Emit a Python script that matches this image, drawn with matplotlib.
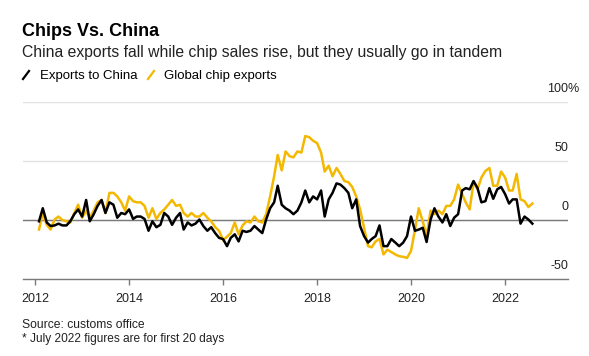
import numpy as np
import pandas as pd
import matplotlib
matplotlib.use('Agg')
import matplotlib.pyplot as plt
import matplotlib.dates as mdates
from matplotlib.lines import Line2D

plt.rcParams['font.family'] = ['Liberation Sans', 'DejaVu Sans']

# Monthly year-on-year change, %, Jan 2012 - Jul 2022
months = pd.date_range('2012-01-31', '2022-07-31', freq='ME')

exports_china = [
    -1, 10, -2, -5, -4.5, -3, -4.5, -4.5, -1, 5, 9, 3,
    17, -1, 5, 12, 17, 6, 15, 13, 2, 6, 5, 9,
    1, 3, 3, 1, -9, -1, -6, -4, 6, 3, -4, 2,
    6, -8, -2, -4.5, -3, 0.5, -5, -9, -6, -11, -15, -16,
    -22, -15, -12, -18, -9, -10, -9, -5, -8, -11, 0.5, 10,
    15, 29, 13, 10, 8, 5, 8, 15, 25, 15, 20, 17.5,
    25, 3, 17.5, 23, 31, 30, 27, 23, 10, 17.5, -5, -13.5,
    -19, -16, -13.5, -4.5, -22, -22, -16, -19, -22, -19, -13.5, 3,
    -9, -8, -6.5, -18.5, 0.5, 10, 3, -2, 5, -5, 2, 5,
    25, 27, 26, 33, 27, 15, 16, 27, 18, 26, 28, 22,
    14, 17.5, 17.5, -3, 3, 0.5, -3,
]

chip_exports = [
    -8, 6, -4, -8, 0.5, 3, 0, -1, -2, 6, 13, 2,
    8, 2, 8, 15, 17, 6, 23, 23, 20, 15, 8, 20,
    16, 15, 15, 12, 2, 10, 1, 6, 9, 13, 17, 12,
    13, 6, 3, 6, 3, 3, 6, 2, -1, -6, -9, -17,
    -14, -11, -2, -12, -4.5, -1, -2, 3, -1, -2, 5, 20,
    37, 55, 42, 58, 54, 53, 58, 57, 71, 70, 67, 65,
    57, 41, 46, 37, 44, 39, 33, 32, 28, 20, 9, -6.5,
    -22, -23, -18, -16, -29, -25, -27, -29, -30.5, -31, -32, -26,
    -8, 10, -1, -13.5, 8, 5, 8, 5, 12, 12, 17.5, 30,
    22, 15, 9, 32, 26, 36, 41.5, 44, 29, 29, 41, 36,
    25, 25, 39, 17.5, 16, 11, 14,
]

y_ticks = [-50, 0, 50, 100]
y_labels = ['-50', '0', '50', '100']

W, H = 589, 356
fig = plt.figure(figsize=(W / 100, H / 100), dpi=100)
ax = fig.add_axes([22.7 / W, 1 - 279.3 / H, (568 - 22.7) / W, (279.3 - 101.7) / H])

ax.plot(months, exports_china, color='black', lw=1.8, zorder=4)
ax.plot(months, chip_exports, color='#f5b800', lw=1.8, zorder=3)

ax.set_ylim(-50, 100)
ax.set_xlim(pd.Timestamp('2011-09-26'), pd.Timestamp('2023-05-04'))

ax.set_yticks(y_ticks)
ax.yaxis.grid(True, color='#e2e2e2', lw=1)
ax.tick_params(axis='y', length=0, labelleft=False)
ax.axhline(0, color='#7a7a7a', lw=1, zorder=2)
for v, lab in zip(y_ticks, y_labels):
    ax.annotate(lab, xy=(1, v), xycoords=('axes fraction', 'data'),
                xytext=(0, 5), textcoords='offset points',
                ha='right', va='bottom', fontsize=9, color='#222222')
ax.annotate('%', xy=(1, 100), xycoords=('axes fraction', 'data'),
            xytext=(0, 5), textcoords='offset points',
            ha='left', va='bottom', fontsize=9, color='#222222',
            annotation_clip=False)

ax.xaxis.set_major_locator(mdates.YearLocator(2))
ax.xaxis.set_major_formatter(mdates.DateFormatter('%Y'))
ax.tick_params(axis='x', length=4, width=1, color='#7a7a7a', pad=6,
               labelsize=9, labelcolor='#222222')

for s in ['top', 'left', 'right']:
    ax.spines[s].set_visible(False)
ax.spines['bottom'].set_color('#7a7a7a')
ax.spines['bottom'].set_linewidth(1)
ax.set_axisbelow(True)

# titles
fig.text(22 / W, 1 - 36 / H, 'Chips Vs. China', fontsize=13, fontweight='bold',
         ha='left', va='baseline')
fig.text(22 / W, 1 - 57 / H,
         'China exports fall while chip sales rise, but they usually go in tandem',
         fontsize=11.3, color='#222222', ha='left', va='baseline')

# legend
fig.add_artist(Line2D([23 / W, 29 / W], [1 - 79 / H, 1 - 71 / H], color='black', lw=1.6))
fig.text(40 / W, 1 - 79 / H, 'Exports to China', fontsize=9.5, ha='left', va='baseline')
fig.add_artist(Line2D([148 / W, 154 / W], [1 - 79 / H, 1 - 71 / H], color='#f5b800', lw=1.6))
fig.text(164 / W, 1 - 79 / H, 'Global chip exports', fontsize=9.5, ha='left', va='baseline')

# footnotes
fig.text(22 / W, 1 - 328 / H, 'Source: customs office', fontsize=8.7,
         color='#222222', ha='left', va='baseline')
fig.text(22 / W, 1 - 342 / H, '* July 2022 figures are for first 20 days', fontsize=8.6,
         color='#222222', ha='left', va='baseline')

fig.savefig('out.png', dpi=100)
